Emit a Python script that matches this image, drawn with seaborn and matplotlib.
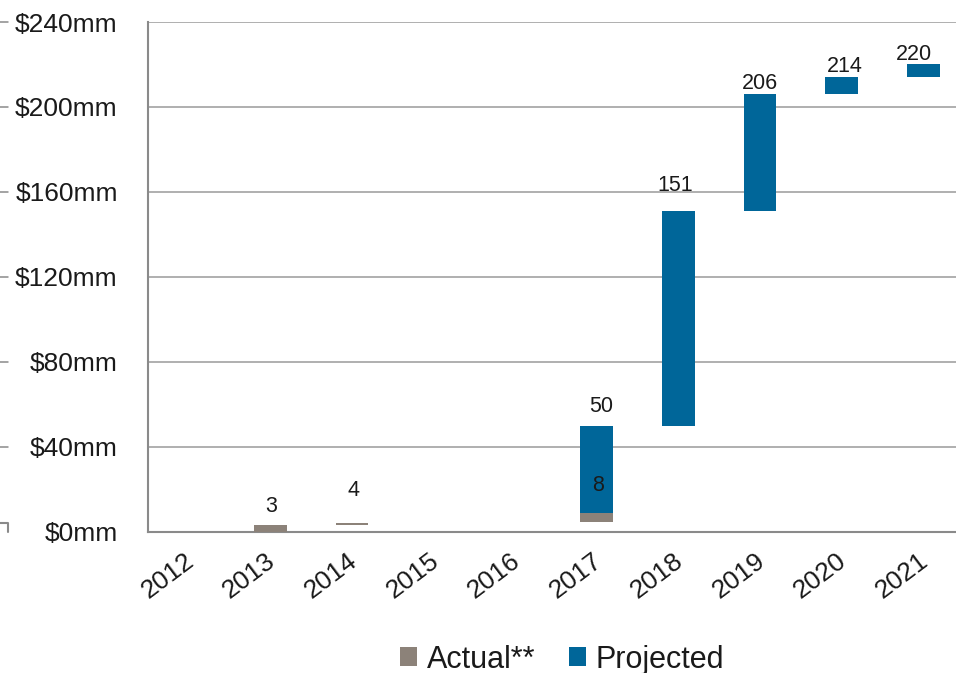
import numpy as np
import pandas as pd
import matplotlib
matplotlib.use("Agg")
import matplotlib.pyplot as plt
import seaborn as sns
from matplotlib.patches import Patch
from matplotlib.ticker import FixedLocator, FuncFormatter
from matplotlib.transforms import ScaledTranslation

# ---------------- data ----------------
years = ['2012', '2013', '2014', '2015', '2016', '2017', '2018', '2019', '2020', '2021']
actual_bottom = [0, 0, 3, 0, 0, 4.4, 0, 0, 0, 0]
actual_top = [0, 3, 4, 0, 0, 8.9, 0, 0, 0, 0]
projected_bottom = [0, 0, 0, 0, 0, 8.9, 50, 151, 206, 214]
projected_top = [0, 0, 0, 0, 0, 50, 151, 206, 214, 220]

label_years = ['2013', '2014', '2017', '2017', '2018', '2019', '2020', '2021']
label_series = ['actual', 'actual', 'actual', 'projected', 'projected', 'projected', 'projected', 'projected']
label_values = [3, 4, 8, 50, 151, 206, 214, 220]

y_ticks = [0, 40, 80, 120, 160, 200, 240]
series_names = ['Actual**', 'Projected']

# ---------------- style ----------------
GRAY = '#8c8279'
BLUE = '#006699'
AXIS = '#8a8a8a'
TEXT = '#1a1a1a'

sns.set_style('white')
plt.rcParams['font.family'] = ['Liberation Sans', 'DejaVu Sans']
plt.rcParams['text.color'] = TEXT
plt.rcParams['xtick.color'] = AXIS
plt.rcParams['ytick.color'] = AXIS
plt.rcParams['xtick.labelcolor'] = TEXT
plt.rcParams['ytick.labelcolor'] = TEXT

fig = plt.figure(figsize=(9.56, 6.73), dpi=100)
ax = fig.add_axes([148 / 956, (673 - 531.7) / 673, 816 / 956, (531.7 - 22) / 673])

df_a = pd.DataFrame({'year': years, 'h': np.array(actual_top) - np.array(actual_bottom)})
df_p = pd.DataFrame({'year': years, 'h': np.array(projected_top) - np.array(projected_bottom)})

sns.barplot(data=df_a, x='year', y='h', order=years, bottom=actual_bottom, color=GRAY,
            saturation=1, width=0.4, errorbar=None, linewidth=0, edgecolor='none', ax=ax, zorder=3)
sns.barplot(data=df_p, x='year', y='h', order=years, bottom=projected_bottom, color=BLUE,
            saturation=1, width=0.4, errorbar=None, linewidth=0, edgecolor='none', ax=ax, zorder=3)

ax.set_xlim(-0.5, 9.5)
ax.set_ylim(0, 240)
ax.set_xlabel('')
ax.set_ylabel('')

# y axis
ax.yaxis.set_major_locator(FixedLocator(y_ticks))
ax.yaxis.set_major_formatter(FuncFormatter(lambda v, p: f'${int(v)}mm'))
ax.tick_params(axis='y', which='major', length=5.8, width=1.4, pad=16, labelsize=19)
ax.yaxis.grid(True, color='#9a9a9a', linewidth=1.1)
ax.set_axisbelow(True)

# x axis: labels at category centres, tick marks at boundaries
ax.set_xticks(range(len(years)))
ax.set_xticklabels(years)
ax.tick_params(axis='x', which='major', length=0, pad=12, labelsize=19)
ax.xaxis.set_minor_locator(FixedLocator(np.arange(-0.5, len(years), 1.0)))
ax.tick_params(axis='x', which='minor', length=5.2, width=1.4, direction='out')
shift = ScaledTranslation(-5 / 100, 0, fig.dpi_scale_trans)
for lbl in ax.get_xticklabels():
    lbl.set_rotation(37)
    lbl.set_ha('right')
    lbl.set_va('top')
    lbl.set_rotation_mode('anchor')
    lbl.set_transform(lbl.get_transform() + shift)

for side in ['top', 'right']:
    ax.spines[side].set_visible(False)
for side in ['left', 'bottom']:
    ax.spines[side].set_color(AXIS)
    ax.spines[side].set_linewidth(1.5)

# data labels
label_dx = [1, 1, 1, 4, -3, 0, 3, -9]
label_dy = [19, 33, 27, 19, 26, 10.5, 10.5, 10]
for yr, s, v, dx, dy in zip(label_years, label_series, label_values, label_dx, label_dy):
    i = years.index(yr)
    top = actual_top[i] if s == 'actual' else projected_top[i]
    ax.annotate(str(v), xy=(i, top), xytext=(dx * 0.72, dy * 0.72), textcoords='offset points',
                ha='center', va='center', fontsize=15.5, color=TEXT, zorder=5)

# small cropped artefacts at the left edge
tr = ax.get_yaxis_transform()
x0, x1 = -148 / 816, -140 / 816
for v in y_ticks[1:]:
    ax.plot([x0, x1], [v, v], color=AXIS, lw=1.1, transform=tr, clip_on=False)
ax.plot([x0, x1, x1], [4, 4, 0], color=AXIS, lw=1.5, transform=tr, clip_on=False)

# legend
handles = [Patch(facecolor=GRAY, edgecolor='none', label=series_names[0]),
           Patch(facecolor=BLUE, edgecolor='none', label=series_names[1])]
fig.legend(handles=handles, loc='center', bbox_to_anchor=(0.588, 0.02), ncol=2, frameon=False,
           fontsize=22, handlelength=0.56, handleheight=0.56, handletextpad=0.33,
           columnspacing=1.08, borderpad=0)

fig.savefig('out.png', dpi=100)
